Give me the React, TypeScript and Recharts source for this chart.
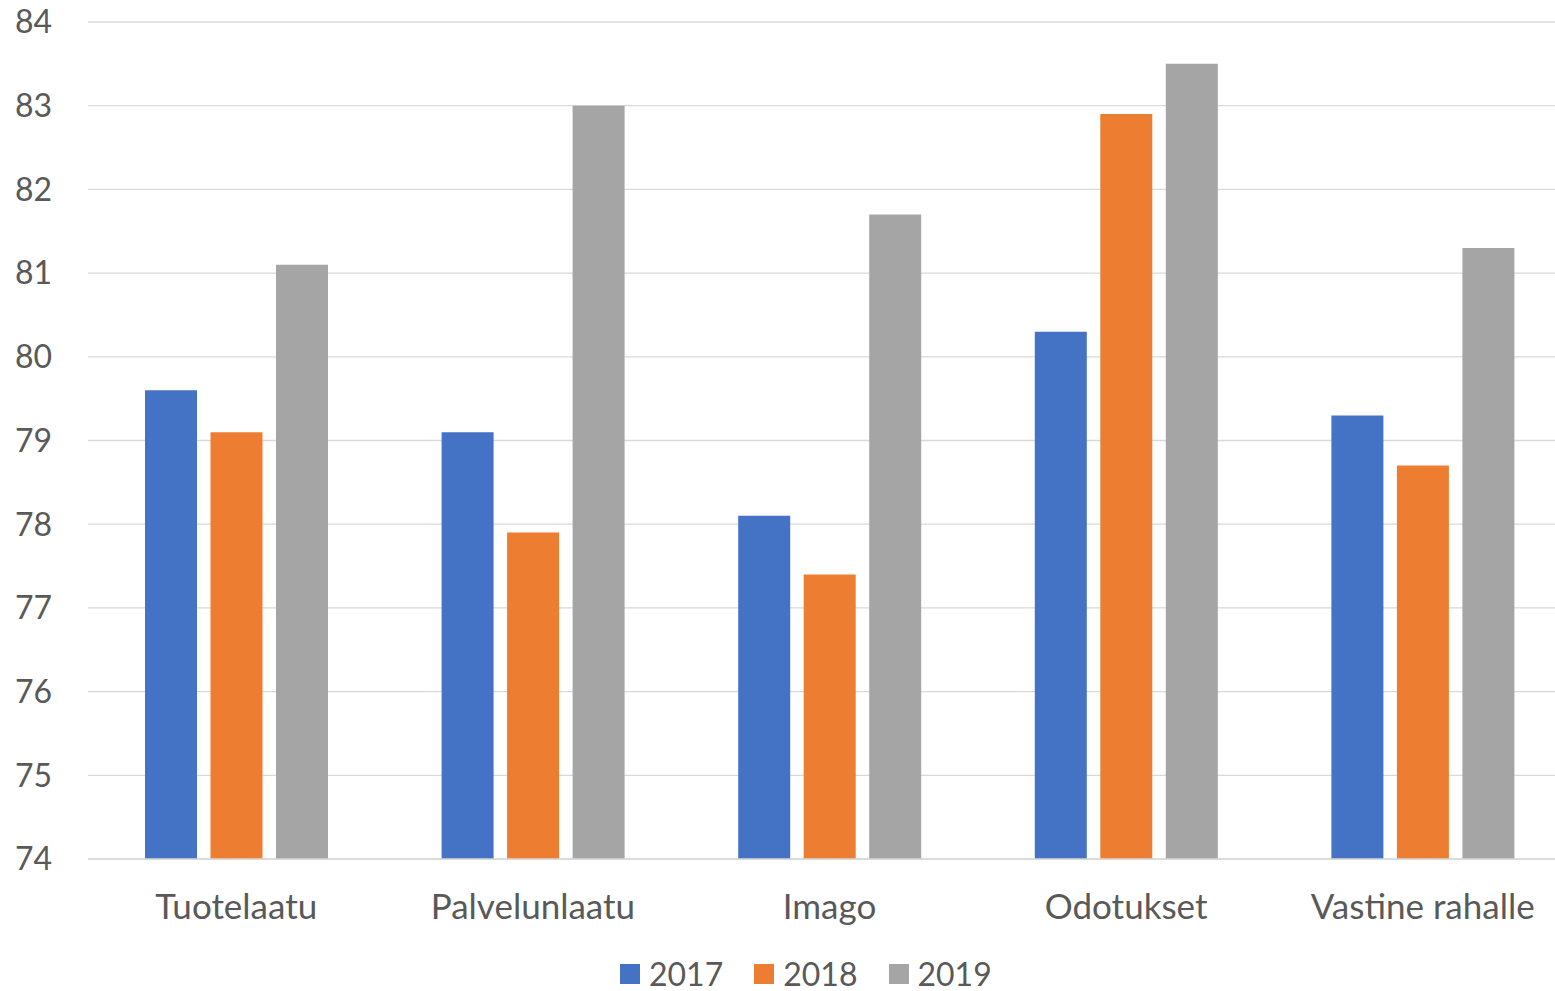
import { BarChart, Bar, XAxis, YAxis, CartesianGrid, Legend } from 'recharts'

const categories = ['Tuotelaatu', 'Palvelunlaatu', 'Imago', 'Odotukset', 'Vastine rahalle']
const values2017 = [79.6, 79.1, 78.1, 80.3, 79.3]
const values2018 = [79.1, 77.9, 77.4, 82.9, 78.7]
const values2019 = [81.1, 83.0, 81.7, 83.5, 81.3]
const yTicks = [74, 75, 76, 77, 78, 79, 80, 81, 82, 83, 84]

const series = [
  { key: 'y2017', name: '2017', color: '#4472C4' },
  { key: 'y2018', name: '2018', color: '#ED7D31' },
  { key: 'y2019', name: '2019', color: '#A5A5A5' },
]

const data = categories.map((name, i) => ({
  name,
  y2017: values2017[i],
  y2018: values2018[i],
  y2019: values2019[i],
}))

const FONT = 'Lato, "Open Sans", sans-serif'
const TEXT = '#595959'

// legend row sits a little right of the page centre
const LegendContent = () => (
  <div
    style={{
      height: 40,
      boxSizing: 'border-box',
      paddingTop: 6,
      paddingLeft: 620,
      display: 'flex',
      alignItems: 'center',
      fontFamily: FONT,
      fontSize: 32,
      color: TEXT,
    }}
  >
    {series.map((s) => (
      <div key={s.key} style={{ display: 'flex', alignItems: 'center', marginRight: 31 }}>
        <span style={{ width: 20, height: 20, background: s.color, marginRight: 9, display: 'inline-block' }} />
        <span style={{ lineHeight: '30px' }}>{s.name}</span>
      </div>
    ))}
  </div>
)

export default function App() {
  return (
    <div style={{ width: 1555, height: 991, overflow: 'hidden', background: '#fff' }}>
      <style>{'body{margin:0}'}</style>
      <BarChart
        width={1571}
        height={991}
        data={data}
        margin={{ top: 22, right: 0, left: 0, bottom: 0 }}
        barSize={52}
        barGap={13.5}
      >
        <CartesianGrid vertical={false} stroke="#D9D9D9" strokeWidth={1.3} />
        <XAxis
          dataKey="name"
          height={92}
          tickLine={false}
          axisLine={{ stroke: '#D9D9D9', strokeWidth: 1.3 }}
          tickSize={0}
          tickMargin={35}
          tick={{ fontSize: 35, fill: TEXT, fontFamily: FONT }}
          interval={0}
        />
        <YAxis
          width={88}
          domain={[74, 84]}
          ticks={yTicks}
          allowDataOverflow
          tickLine={false}
          axisLine={false}
          tickSize={0}
          tickMargin={36}
          tick={{ fontSize: 32, fill: TEXT, fontFamily: FONT }}
        />
        <Legend verticalAlign="bottom" content={<LegendContent />} wrapperStyle={{ left: 0, width: 1555 }} />
        {series.map((s) => (
          <Bar key={s.key} dataKey={s.key} name={s.name} fill={s.color} isAnimationActive={false} />
        ))}
      </BarChart>
    </div>
  )
}
